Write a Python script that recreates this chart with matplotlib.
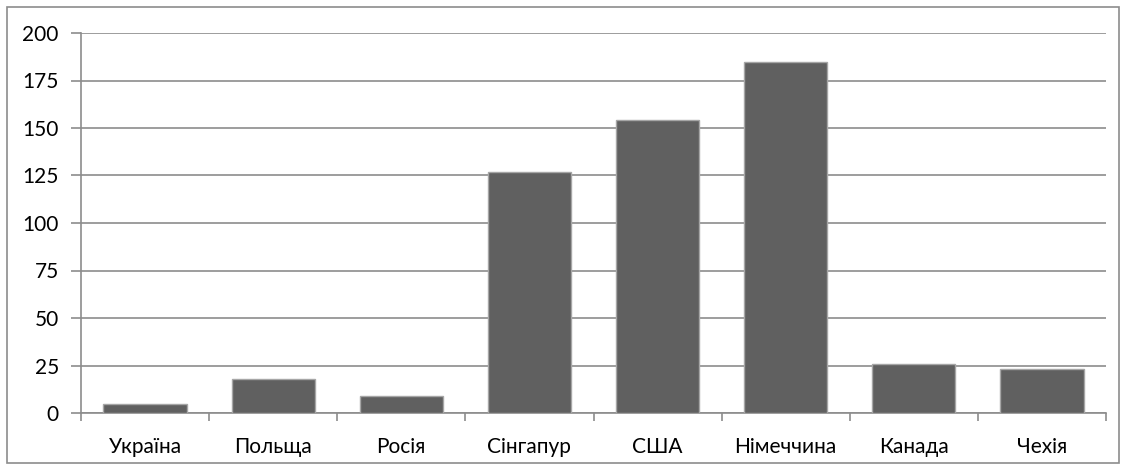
import numpy as np
import matplotlib.pyplot as plt
from matplotlib.patches import Rectangle

### DATA
countries = ['Україна', 'Польща', 'Росія', 'Сінгапур', 'США', 'Німеччина', 'Канада', 'Чехія']
values = [5, 18, 9, 127, 154, 185, 26, 23]
yticks = [0, 25, 50, 75, 100, 125, 150, 175, 200]

plt.rcParams['font.family'] = ['Lato', 'DejaVu Sans']

fig = plt.figure(figsize=(11.26, 4.70), dpi=100)
ax = fig.add_axes([81/1126, 1 - 413/470, (1106-81)/1126, (413-33)/470])

x = np.arange(len(countries))
ax.bar(x, values, width=0.65, color='#606060', edgecolor='#a6a6a6', linewidth=1, zorder=3)

ax.set_xlim(-0.5, len(countries) - 0.5)
ax.set_ylim(0, 200)
ax.set_yticks(yticks)
ax.set_yticklabels([str(t) for t in yticks], fontsize=15, color='black')
ax.yaxis.grid(True, color='#8c8c8c', linewidth=1.2, zorder=0)

# category labels between boundary tick marks
ax.set_xticks(x)
ax.set_xticklabels(countries, fontsize=15, color='black')
ax.tick_params(axis='x', length=0, pad=17)
ax.set_xticks(np.arange(len(countries) + 1) - 0.5, minor=True)
ax.tick_params(axis='x', which='minor', length=6, color='#8c8c8c', width=1.2)
ax.tick_params(axis='y', length=7, color='#8c8c8c', width=1.2, pad=9)

for s in ['top', 'right']:
    ax.spines[s].set_visible(False)
for s in ['left', 'bottom']:
    ax.spines[s].set_color('#8c8c8c')
    ax.spines[s].set_linewidth(1.2)

# outer chart border
fig.patches.append(Rectangle((7/1126, 7/470), 1 - 14/1126, 1 - 14/470,
                             transform=fig.transFigure, fill=False,
                             edgecolor='#8c8c8c', linewidth=1.2))

fig.savefig('out.png', dpi=100)
